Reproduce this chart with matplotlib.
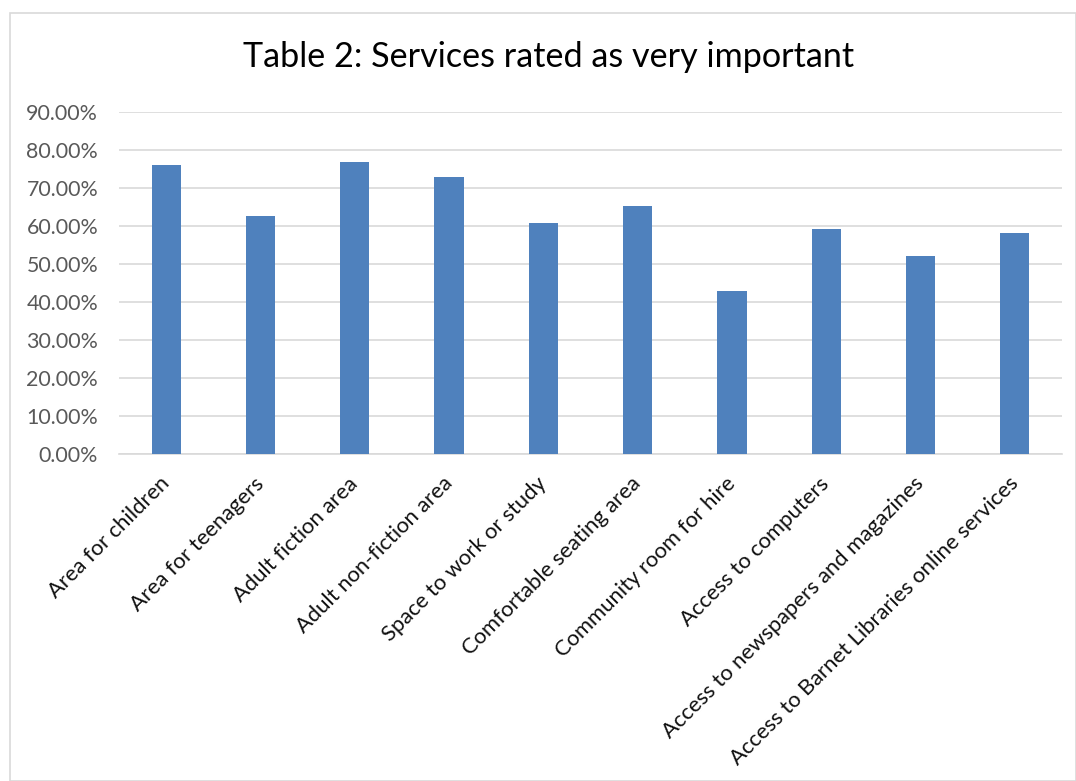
import matplotlib
matplotlib.use("Agg")
import matplotlib.pyplot as plt
from matplotlib.ticker import PercentFormatter
from matplotlib.patches import Rectangle
from matplotlib.transforms import ScaledTranslation

services = [
    "Area for children",
    "Area for teenagers",
    "Adult fiction area",
    "Adult non-fiction area",
    "Space to work or study",
    "Comfortable seating area",
    "Community room for hire",
    "Access to computers",
    "Access to newspapers and magazines",
    "Access to Barnet Libraries online services",
]
very_important = [76.0, 62.7, 76.9, 73.0, 60.8, 65.3, 42.8, 59.2, 52.2, 58.1]
y_ticks = [0, 10, 20, 30, 40, 50, 60, 70, 80, 90]

plt.rcParams["font.family"] = ["Lato", "DejaVu Sans"]

fig = plt.figure(figsize=(10.76, 7.81), dpi=100)
# light frame around the whole chart
fig.patches.append(Rectangle((10 / 1076, 0), 1 - 10 / 1076, 1 - 13 / 781,
                             transform=fig.transFigure, fill=False,
                             edgecolor="#D9D9D9", linewidth=1.2))

ax = fig.add_axes([119 / 1076, 1 - 454 / 781, 943 / 1076, 342 / 781])
x = range(len(services))
ax.bar(x, very_important, width=0.31, color="#4F81BD", zorder=3)

ax.set_xlim(-0.5, len(services) - 0.5)
ax.set_ylim(0, 90)
ax.set_yticks(y_ticks)
ax.yaxis.set_major_formatter(PercentFormatter(decimals=2))
ax.grid(axis="y", color="#D9D9D9", linewidth=1.2, zorder=0)
for side in ["top", "right", "left"]:
    ax.spines[side].set_visible(False)
ax.spines["bottom"].set_color("#D9D9D9")
ax.spines["bottom"].set_linewidth(1.2)
ax.tick_params(axis="both", length=0)
ax.tick_params(axis="y", pad=15, labelsize=15.4, labelcolor="#595959")
ax.tick_params(axis="x", pad=14, labelsize=15.8, labelcolor="#111111")

ax.set_xticks(list(x))
ax.set_xticklabels(services, rotation=45, ha="right", va="top",
                   rotation_mode="anchor")
shift = ScaledTranslation(-5 / 72, 0, fig.dpi_scale_trans)
for lbl in ax.get_xticklabels():
    lbl.set_transform(lbl.get_transform() + shift)

fig.text(549 / 1076, 1 - 57 / 781, "Table 2: Services rated as very important",
         ha="center", va="center", fontsize=24.6, color="#000000")

fig.savefig("out.png", dpi=100)
